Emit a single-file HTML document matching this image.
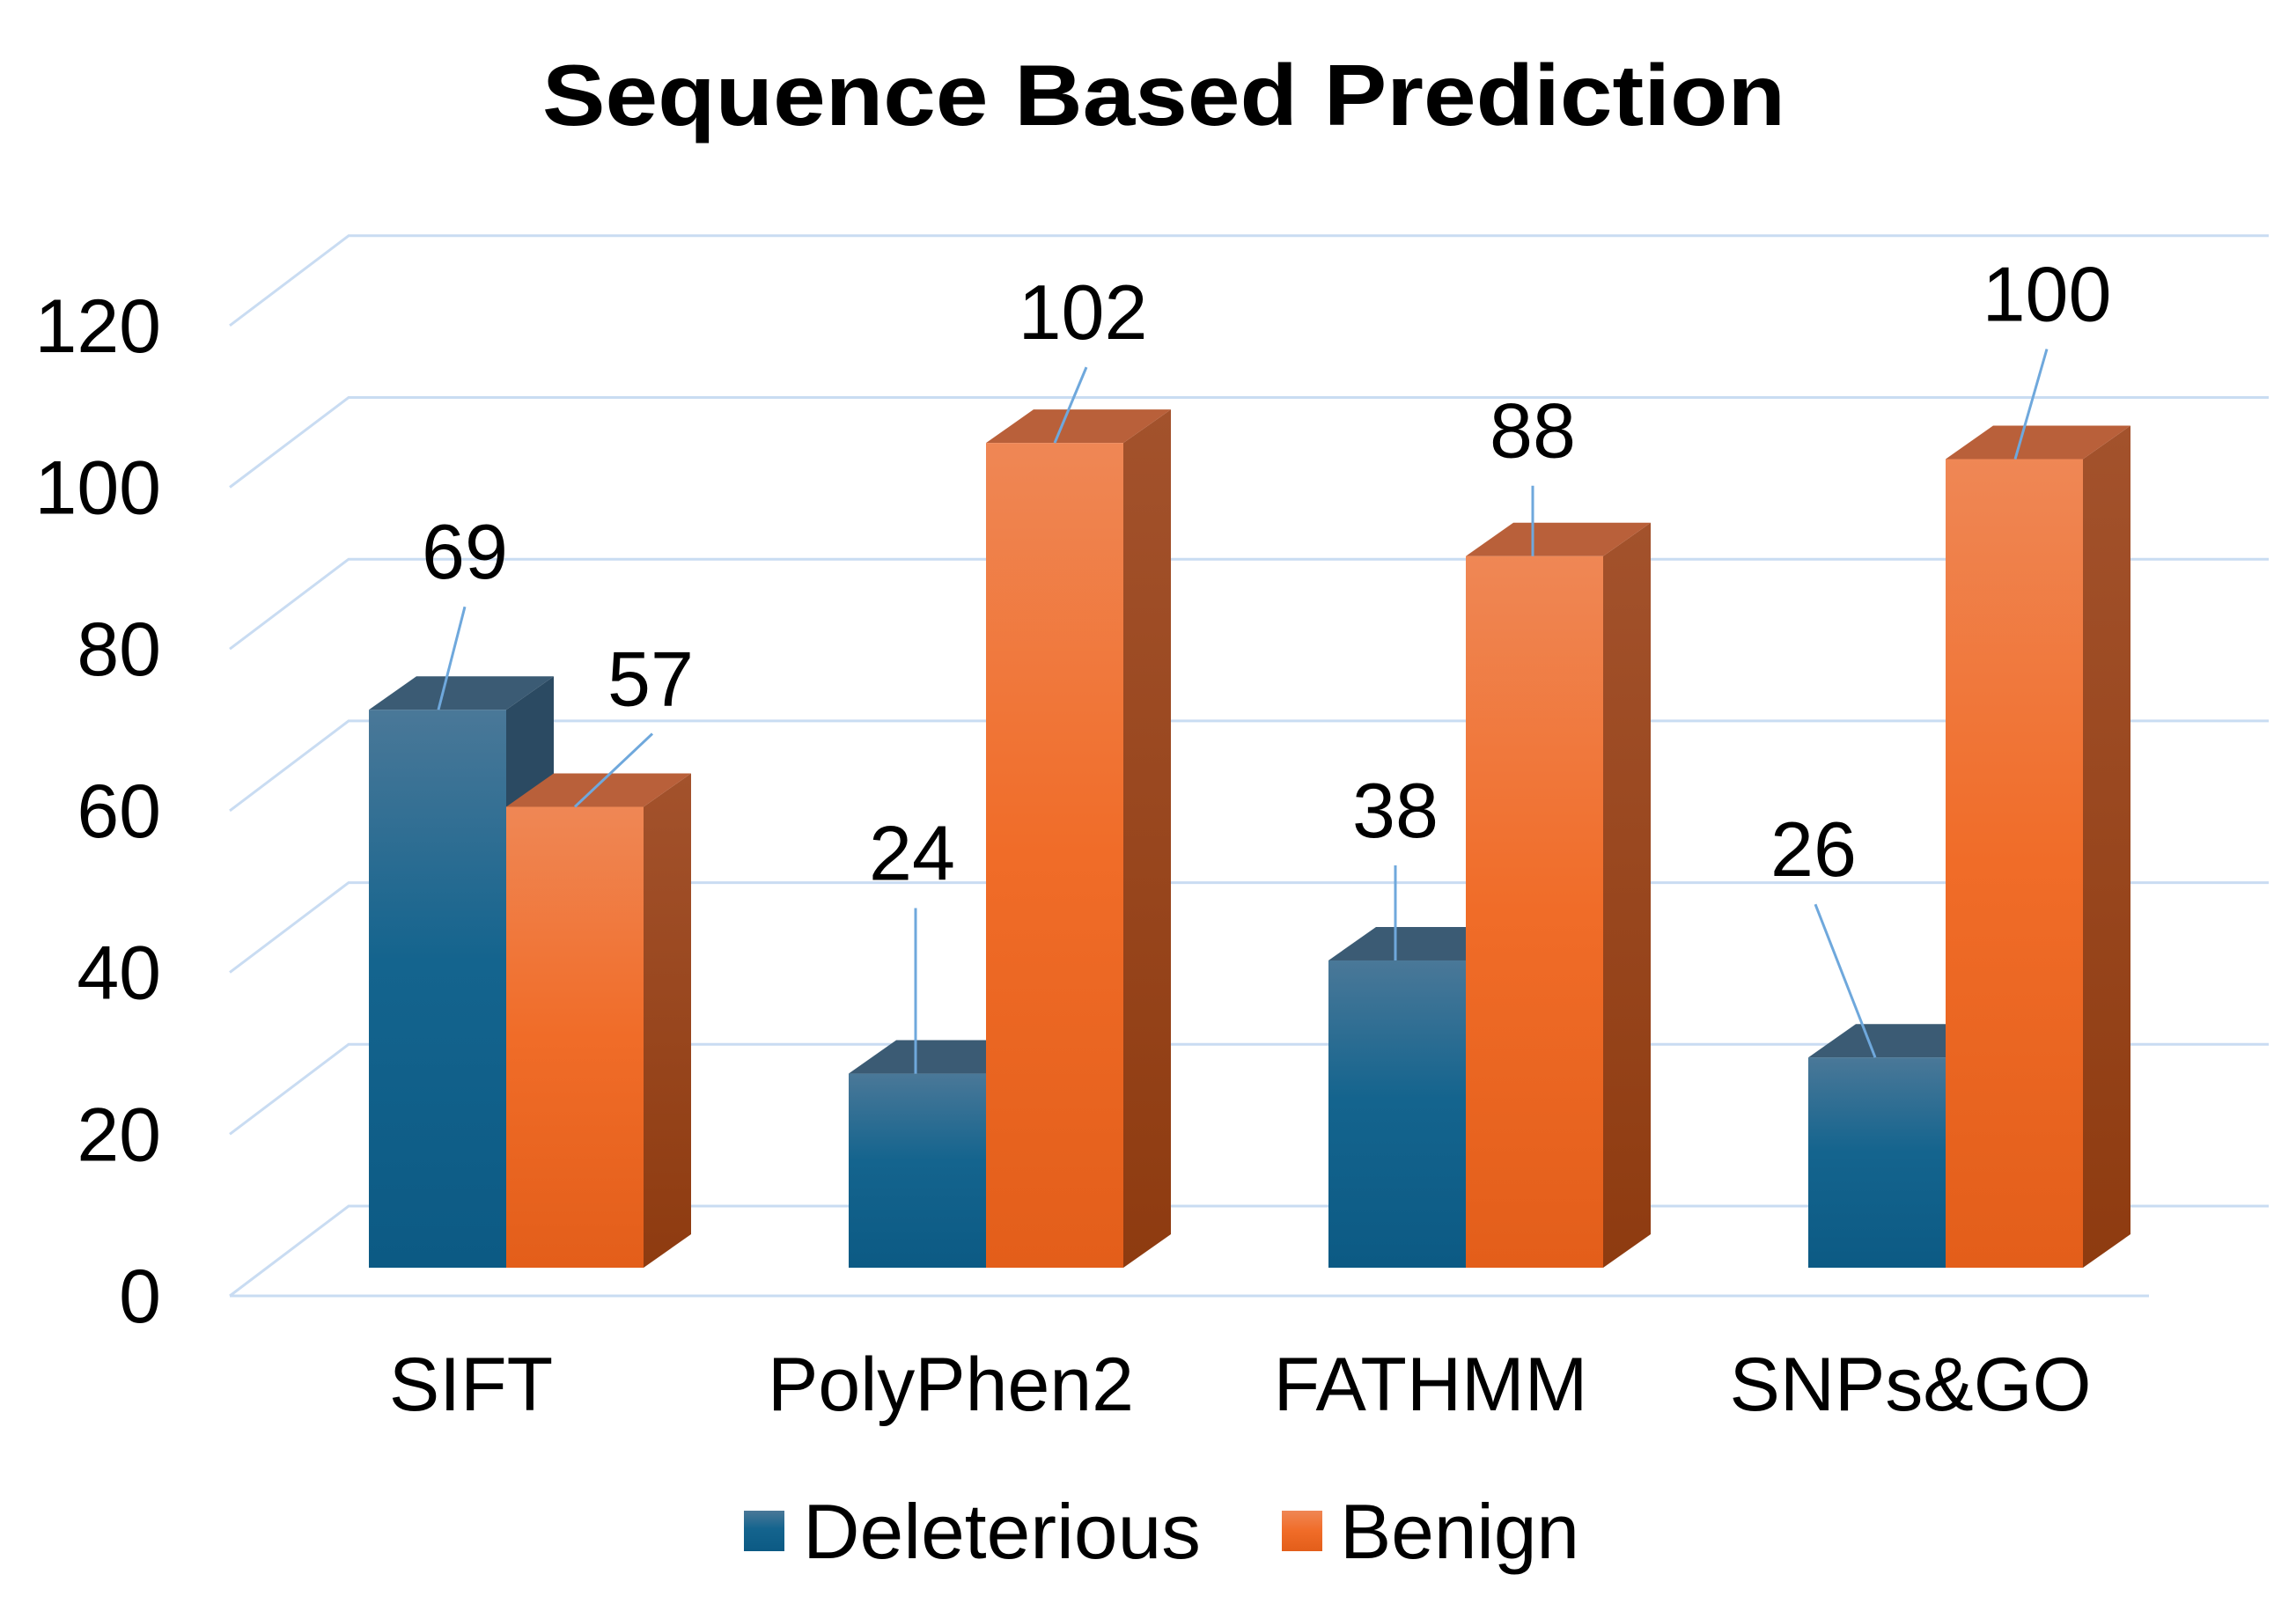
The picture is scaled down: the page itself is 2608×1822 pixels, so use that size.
<!DOCTYPE html>
<html><head><meta charset="utf-8"><style>
html,body{margin:0;padding:0;background:#fff;}
svg{display:block;font-family:"Liberation Sans",Arial,sans-serif;}
</style></head><body>
<svg id="chart" width="2608" height="1822" viewBox="0 0 2608 1822" xmlns="http://www.w3.org/2000/svg">
<defs>
<linearGradient id="gDel" x1="0" y1="0" x2="0" y2="1"><stop offset="0" stop-color="#4a7898"/><stop offset="0.45" stop-color="#14648e"/><stop offset="1" stop-color="#0c5a84"/></linearGradient>
<linearGradient id="gBen" x1="0" y1="0" x2="0" y2="1"><stop offset="0" stop-color="#ef8755"/><stop offset="0.5" stop-color="#f06c28"/><stop offset="1" stop-color="#e35e1a"/></linearGradient>
<linearGradient id="gBenSide" x1="0" y1="0" x2="0" y2="1"><stop offset="0" stop-color="#a3522c"/><stop offset="1" stop-color="#8e3b10"/></linearGradient>
</defs>
<text x="616" y="142" textLength="1412" lengthAdjust="spacingAndGlyphs" font-size="98" font-weight="bold" fill="#000">Sequence Based Prediction</text>
<g id="grid"></g><g id="bars"></g><g id="labels"></g>
<g>
<rect x="845" y="1716" width="46" height="46" fill="url(#gDel)"/>
<text x="912" y="1770" font-size="88" textLength="452" lengthAdjust="spacingAndGlyphs">Deleterious</text>
<rect x="1456" y="1716" width="46" height="46" fill="url(#gBen)"/>
<text x="1522" y="1770" font-size="88" textLength="272" lengthAdjust="spacingAndGlyphs">Benign</text>
</g>
</svg>
<script>
const categories = ["SIFT", "PolyPhen2", "FATHMM", "SNPs&GO"];
const deleterious = [69, 24, 38, 26];
const benign = [57, 102, 88, 100];
const yTicks = [0, 20, 40, 60, 80, 100, 120];

const NS = "http://www.w3.org/2000/svg";
const frontLeft = 261, backLeft = 396, backRight = 2577, floorRight = 2441;
const gDX = 135, gDY = -102;
const backZero = 1370, unit = 9.185;
const barZero = 1440;
const groupStart = 419, groupStep = 545, barW = 156, bDX = 54, bDY = -38;
function yBack(v){ return backZero - v*unit; }
function yBar(v){ return barZero - v*unit; }
function xBar(i, s){ return groupStart + i*groupStep + s*barW; }
function mk(tag, attrs, parent){ const e=document.createElementNS(NS,tag); for(const k in attrs) e.setAttribute(k,attrs[k]); parent.appendChild(e); return e; }

const grid = document.getElementById('grid');
yTicks.forEach(function(t){
  const yb = yBack(t), yf = yb - gDY;
  const l = mk('polyline',{points:`${frontLeft},${yf} ${backLeft},${yb} ${backRight},${yb}`,fill:'none',stroke:'#c9dcf2','stroke-width':3},grid);
  
  
  const tx = mk('text',{x:183,y:yf+30,'text-anchor':'end','font-size':86,fill:'#000'},grid);
  tx.textContent = t;
  
  
});
const floor = mk('line',{x1:frontLeft,y1:backZero-gDY,x2:floorRight,y2:backZero-gDY,stroke:'#c9dcf2','stroke-width':3},grid);



const bars = document.getElementById('bars');
const labels = document.getElementById('labels');
// label offsets relative to bar top-center: [leaderTopDx, leaderTopDy, leaderBottomDx, labelDx]
const delOff = [[30,-117,3,30],[0,-188,0,-4],[0,-108,0,0],[-68,-174,0,-70]];
const benOff = [[88,-83,2,86],[36,-86,2,32],[0,-80,0,0],[36,-125,3,36]];
function drawBar(i, s, v, name, front, top, side, off){
  const x = xBar(i,s), y = yBar(v), w = barW;
  const g = mk('g',{},bars);
  
  
  mk('polygon',{points:`${x+w},${y} ${x+w+bDX},${y+bDY} ${x+w+bDX},${barZero+bDY} ${x+w},${barZero}`,fill:side},g);
  mk('polygon',{points:`${x},${y} ${x+bDX},${y+bDY} ${x+w+bDX},${y+bDY} ${x+w},${y}`,fill:top},g);
  mk('rect',{x:x,y:y,width:w,height:barZero-y,fill:front},g);
  const cx = x + w/2 - 2 + off[2];
  const ln = mk('line',{x1:cx,y1:y,x2:cx+off[0],y2:y+off[1],stroke:'#6fa8dc','stroke-width':3},labels);
  
  
  const t = mk('text',{x:cx+off[3],y:y+off[1]-32,'text-anchor':'middle','font-size':88,fill:'#000'},labels);
  t.textContent = v;
  
  
}
categories.forEach(function(c,i){
  drawBar(i,0,deleterious[i],'deleterious','url(#gDel)','#3b5b74','#2b4a62',delOff[i]);
  drawBar(i,1,benign[i],'benign','url(#gBen)','#b9603a','url(#gBenSide)',benOff[i]);
  const t = mk('text',{x:xBar(i,1)-40,y:1602,'text-anchor':'middle','font-size':86,fill:'#000'},labels);
  t.textContent = c;
  
  
});
</script>
</body></html>
